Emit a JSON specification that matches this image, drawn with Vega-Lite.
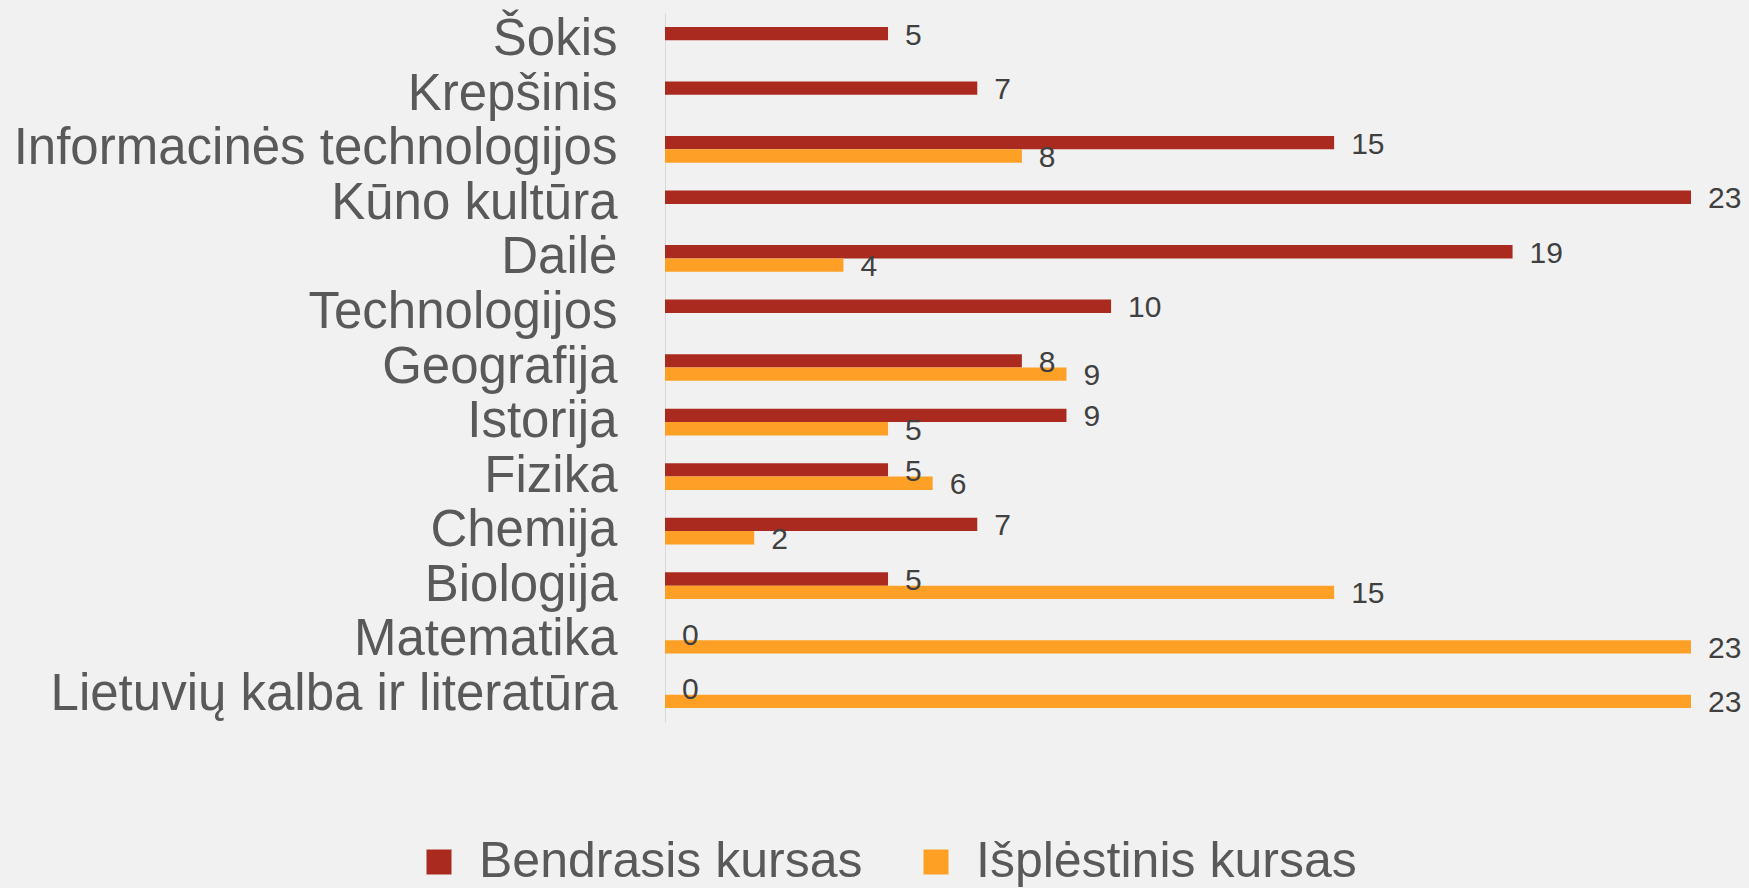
{
  "$schema": "https://vega.github.io/schema/vega-lite/v6.json",
  "autosize": {"type": "none"},
  "padding": {"left": 665, "top": 13, "right": 58, "bottom": 166},
  "width": 1026,
  "height": 709,
  "background": "#F1F1F1",
  "config": {
    "view": {"stroke": null},
    "font": "Liberation Sans"
  },
  "data": {
    "values": [
      {"dalykas": "Šokis", "kursas": "Bendrasis kursas", "n": 5},
      {"dalykas": "Krepšinis", "kursas": "Bendrasis kursas", "n": 7},
      {"dalykas": "Informacinės technologijos", "kursas": "Bendrasis kursas", "n": 15},
      {"dalykas": "Informacinės technologijos", "kursas": "Išplėstinis kursas", "n": 8},
      {"dalykas": "Kūno kultūra", "kursas": "Bendrasis kursas", "n": 23},
      {"dalykas": "Dailė", "kursas": "Bendrasis kursas", "n": 19},
      {"dalykas": "Dailė", "kursas": "Išplėstinis kursas", "n": 4},
      {"dalykas": "Technologijos", "kursas": "Bendrasis kursas", "n": 10},
      {"dalykas": "Geografija", "kursas": "Bendrasis kursas", "n": 8},
      {"dalykas": "Geografija", "kursas": "Išplėstinis kursas", "n": 9},
      {"dalykas": "Istorija", "kursas": "Bendrasis kursas", "n": 9},
      {"dalykas": "Istorija", "kursas": "Išplėstinis kursas", "n": 5},
      {"dalykas": "Fizika", "kursas": "Bendrasis kursas", "n": 5},
      {"dalykas": "Fizika", "kursas": "Išplėstinis kursas", "n": 6},
      {"dalykas": "Chemija", "kursas": "Bendrasis kursas", "n": 7},
      {"dalykas": "Chemija", "kursas": "Išplėstinis kursas", "n": 2},
      {"dalykas": "Biologija", "kursas": "Bendrasis kursas", "n": 5},
      {"dalykas": "Biologija", "kursas": "Išplėstinis kursas", "n": 15},
      {"dalykas": "Matematika", "kursas": "Bendrasis kursas", "n": 0},
      {"dalykas": "Matematika", "kursas": "Išplėstinis kursas", "n": 23},
      {"dalykas": "Lietuvių kalba ir literatūra", "kursas": "Bendrasis kursas", "n": 0},
      {"dalykas": "Lietuvių kalba ir literatūra", "kursas": "Išplėstinis kursas", "n": 23}
    ]
  },
  "encoding": {
    "y": {
      "field": "dalykas",
      "type": "nominal",
      "sort": null,
      "scale": {"paddingInner": 0.51, "paddingOuter": 0.255},
      "axis": {
        "title": null,
        "ticks": false,
        "domainColor": "#D9D9D9",
        "domainWidth": 1,
        "labelFontSize": 51,
        "labelColor": "#595959",
        "labelPadding": 48,
        "labelLimit": 0
      }
    },
    "yOffset": {
      "field": "kursas",
      "type": "nominal",
      "sort": ["Bendrasis kursas", "Išplėstinis kursas"]
    },
    "x": {
      "field": "n",
      "type": "quantitative",
      "scale": {"domain": [0, 23], "nice": false},
      "axis": null
    }
  },
  "layer": [
    {
      "mark": {"type": "bar", "cornerRadius": 0},
      "encoding": {
        "color": {
          "field": "kursas",
          "type": "nominal",
          "sort": ["Bendrasis kursas", "Išplėstinis kursas"],
          "scale": {"range": ["#AA2A1F", "#FFA026"]},
          "legend": {
            "title": null,
            "orient": "none",
            "direction": "horizontal",
            "legendX": -251,
            "legendY": 824,
            "padding": 0,
            "symbolType": "square",
            "symbolSize": 625,
            "symbolStrokeWidth": 0,
            "labelFontSize": 50,
            "labelColor": "#595959",
            "labelOffset": 15,
            "columnPadding": 48,
            "labelLimit": 0
          }
        }
      }
    },
    {
      "mark": {"type": "text", "align": "left", "baseline": "middle", "dx": 17, "dy": 2, "fontSize": 30, "color": "#404040"},
      "encoding": {
        "text": {"field": "n", "type": "quantitative"}
      }
    }
  ]
}
